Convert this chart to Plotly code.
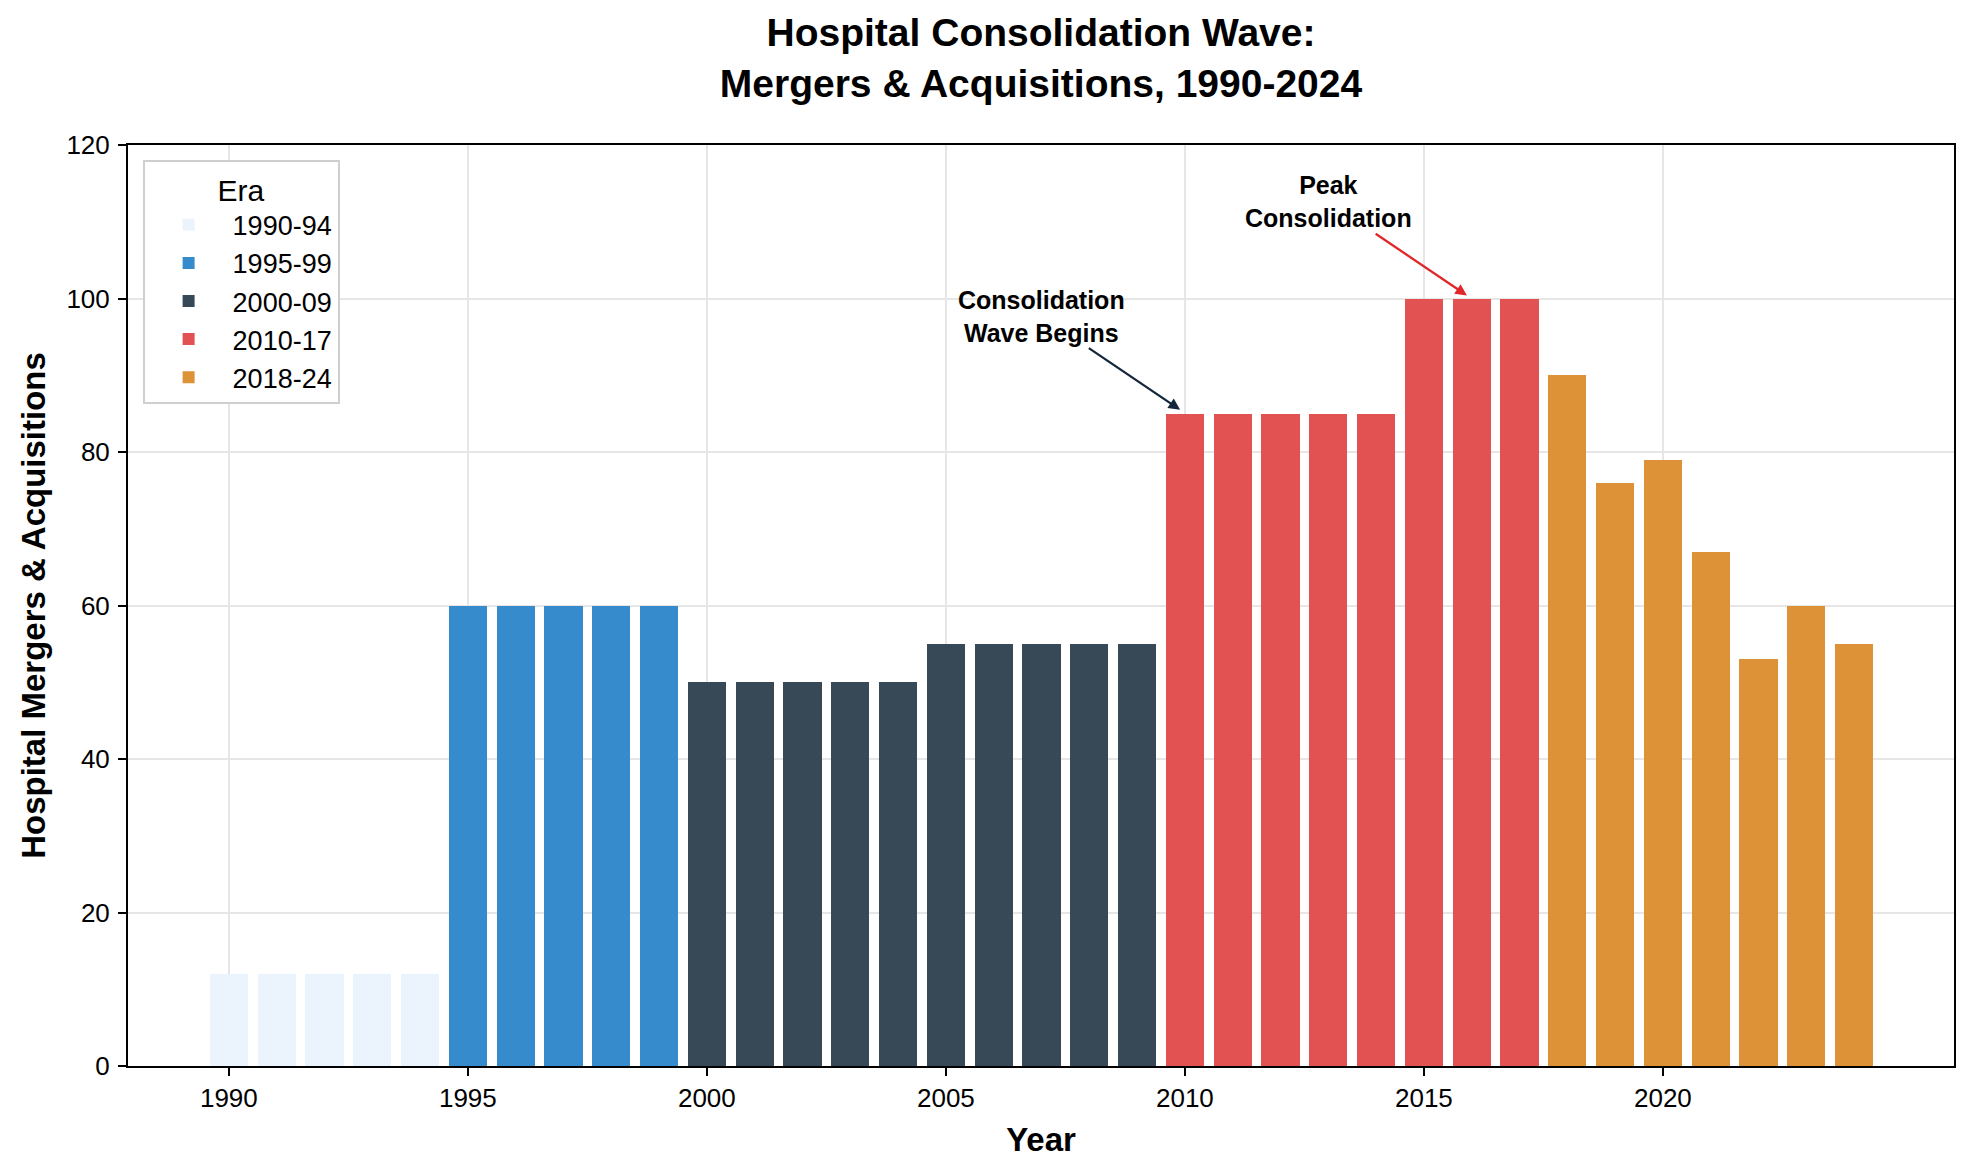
import plotly.graph_objects as go

# ---- data ----
years = [1990, 1991, 1992, 1993, 1994,
         1995, 1996, 1997, 1998, 1999,
         2000, 2001, 2002, 2003, 2004,
         2005, 2006, 2007, 2008, 2009,
         2010, 2011, 2012, 2013, 2014,
         2015, 2016, 2017,
         2018, 2019, 2020, 2021, 2022, 2023, 2024]
deals = [12, 12, 12, 12, 12,
         60, 60, 60, 60, 60,
         50, 50, 50, 50, 50,
         55, 55, 55, 55, 55,
         85, 85, 85, 85, 85,
         100, 100, 100,
         90, 76, 79, 67, 53, 60, 55]

era_names = ["1990-94", "1995-99", "2000-09", "2010-17", "2018-24"]
era_start = [1990, 1995, 2000, 2010, 2018]
era_end = [1994, 1999, 2009, 2017, 2024]
era_colors = ["#EBF4FC", "#358BCC", "#374856", "#E35252", "#DE9238"]

y_ticks = [0, 20, 40, 60, 80, 100, 120]
x_ticks = [1990, 1995, 2000, 2005, 2010, 2015, 2020]

FONT = "Liberation Sans, Arial, Helvetica, sans-serif"

fig = go.Figure()
for name, s, e, c in zip(era_names, era_start, era_end, era_colors):
    xs = [yr for yr in years if s <= yr <= e]
    ys = [v for yr, v in zip(years, deals) if s <= yr <= e]
    fig.add_trace(go.Bar(
        x=xs, y=ys, name=name, width=0.8,
        marker=dict(color=c, line=dict(width=0)),
    ))

fig.add_annotation(
    x=2009.9, y=85.5, xref="x", yref="y",
    ax=2007.0, ay=97.7, axref="x", ayref="y",
    text="<b>Consolidation<br>Wave Begins</b>",
    font=dict(family=FONT, size=25, color="black"),
    showarrow=True, arrowhead=2, arrowsize=1, arrowwidth=2.3,
    arrowcolor="#13263A", align="center",
)
fig.add_annotation(
    x=2015.9, y=100.4, xref="x", yref="y",
    ax=2013.0, ay=112.6, axref="x", ayref="y",
    text="<b>Peak<br>Consolidation</b>",
    font=dict(family=FONT, size=25, color="black"),
    showarrow=True, arrowhead=2, arrowsize=1, arrowwidth=2.3,
    arrowcolor="#E0282A", align="center",
)

fig.update_layout(
    width=1974, height=1175,
    margin=dict(l=120, r=28, t=137, b=117),
    paper_bgcolor="white", plot_bgcolor="white",
    font=dict(family=FONT, size=26, color="black"),
    title=dict(
        text="<b>Hospital Consolidation Wave:<br>Mergers & Acquisitions, 1990-2024</b>",
        font=dict(family=FONT, size=39, color="black"),
        x=0.5, xref="paper", xanchor="center",
        y=1 - 38 / 1175, yref="container", yanchor="middle",
    ),
    barmode="overlay",
    bargap=0,
    showlegend=True,
    legend=dict(
        title=dict(text="Era", font=dict(family=FONT, size=30), side="top center"),
        x=0.008, y=0.984, xanchor="left", yanchor="top",
        bgcolor="white", bordercolor="#CFCFCF", borderwidth=2,
        font=dict(family=FONT, size=27),
        itemwidth=78,
    ),
    xaxis=dict(
        range=[1987.89, 2026.09],
        tickmode="array", tickvals=x_ticks, ticktext=[str(t) for t in x_ticks],
        ticks="outside", ticklen=8, tickwidth=2, tickcolor="black",
        ticklabelstandoff=0,
        showline=True, linecolor="black", linewidth=2, mirror=True,
        showgrid=True, gridcolor="#E6E6E6", gridwidth=1.5,
        zeroline=False,
        title=dict(text="<b>Year</b>", font=dict(family=FONT, size=33), standoff=16),
    ),
    yaxis=dict(
        range=[0, 120],
        tickmode="array", tickvals=y_ticks, ticktext=[str(t) for t in y_ticks],
        ticks="outside", ticklen=8, tickwidth=2, tickcolor="black",
        ticklabelstandoff=3,
        showline=True, linecolor="black", linewidth=2, mirror=True,
        showgrid=True, gridcolor="#E6E6E6", gridwidth=1.5,
        zeroline=False,
        title=dict(text="<b>Hospital Mergers & Acquisitions</b>", font=dict(family=FONT, size=33), standoff=11),
    ),
)

fig.write_html("out.html")
